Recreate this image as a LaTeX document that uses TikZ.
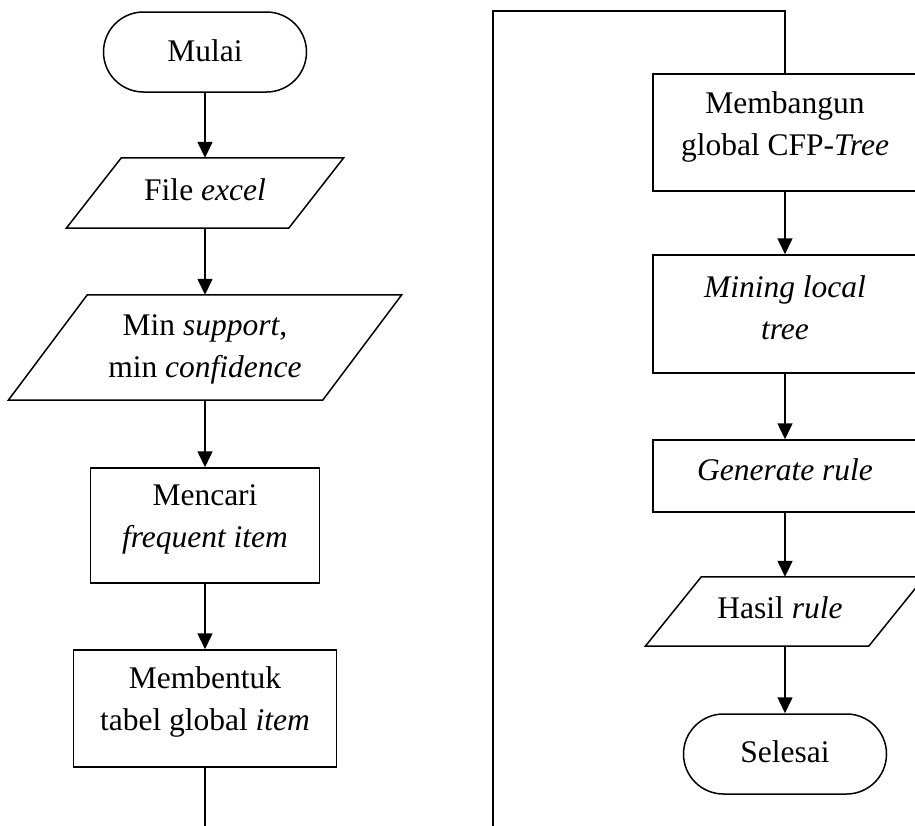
\documentclass[tikz,border=0pt]{standalone}
\usepackage{fontspec}
\setmainfont{Liberation Serif}
\usetikzlibrary{arrows.meta}
\newcommand{\drawpara}[2]{\draw[plain, line join=miter] ([xshift=#2]#1.north west) -- ([xshift=#2]#1.north east) -- ([xshift=-#2]#1.south east) -- ([xshift=-#2]#1.south west) -- cycle;}
\begin{document}
\begin{tikzpicture}[x=1pt,y=-1pt,
  shp/.style={draw, line width=1.5pt, inner sep=0pt, rectangle},
  termnode/.style={shp, rounded corners=40pt, minimum width=203pt, minimum height=80pt},
  hole/.style={inner sep=0pt, rectangle},
  txt/.style={font=\fontsize{31.5}{42}\selectfont, align=center, anchor=base, inner sep=0pt},
  flow/.style={line width=1.5pt, -{Triangle[width=15pt,length=16pt]}},
  plain/.style={line width=1.5pt}]
\useasboundingbox (0,0) rectangle (915,825);
% left column
\node[termnode] (start) at (205,52) {};
\node[txt] (startt) at (205,61) {Mulai};
\node[hole, minimum width=222pt, minimum height=70pt] (fe) at (205,193) {};
\drawpara{fe}{27.5pt}
\node[txt] (fet) at (205,200) {File \textit{excel}};
\node[hole, minimum width=314pt, minimum height=105pt] (ms) at (205,347.5) {};
\drawpara{ms}{39.5pt}
\node[txt] (mst) at (205,377) {Min \textit{support},\\min \textit{confidence}};
\node[shp, minimum width=229pt, minimum height=115pt] (fi) at (205,525.5) {};
\node[txt] (fit) at (205,547) {Mencari\\\textit{frequent item}};
\node[shp, minimum width=263pt, minimum height=117pt] (tg) at (205,708.5) {};
\node[txt] (tgt) at (205,730) {Membentuk\\tabel global \textit{item}};
% right column
\node[shp, minimum width=264pt, minimum height=117pt] (mb) at (785,132.5) {};
\node[txt] (mbt) at (785,155) {Membangun\\global CFP-\textit{Tree}};
\node[shp, minimum width=264pt, minimum height=118pt] (ml) at (785,314) {};
\node[txt] (mlt) at (785,339) {\textit{Mining local}\\\textit{tree}};
\node[shp, minimum width=264pt, minimum height=72pt] (gr) at (785,476) {};
\node[txt] (grt) at (785,480) {\textit{Generate rule}};
\node[hole, minimum width=223pt, minimum height=69pt] (hr) at (785,611.5) {};
\drawpara{hr}{28pt}
\node[txt] (hrt) at (780,618) {Hasil \textit{rule}};
\node[termnode] (end) at (785,754) {};
\node[txt] (endt) at (785,762) {Selesai};
% connectors
\draw[flow] (start) -- (fe);
\draw[flow] (fe) -- (ms);
\draw[flow] (ms) -- (fi);
\draw[flow] (fi) -- (tg);
\coordinate (lb) at (205,827);
\draw[plain] (tg) -- (lb);
\coordinate (rb) at (493,827);
\coordinate (rt) at (493,11);
\draw[plain, line join=miter] (rb) -- (rt) -| (mb.north);
\draw[flow] (mb) -- (ml);
\draw[flow] (ml) -- (gr);
\draw[flow] (gr) -- (hr);
\draw[flow] (hr) -- (end);
\end{tikzpicture}
\end{document}
